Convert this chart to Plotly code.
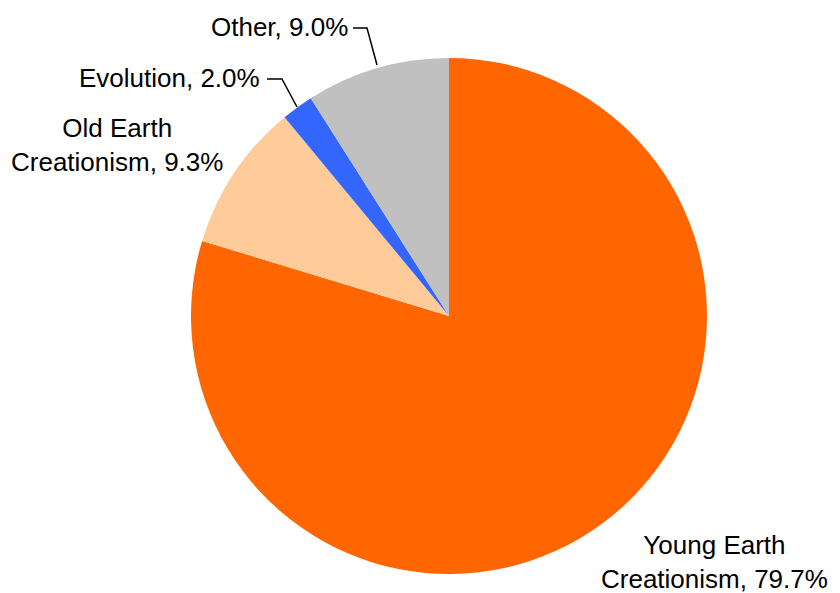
import plotly.graph_objs as go

labels = ['Young Earth Creationism', 'Old Earth Creationism', 'Evolution', 'Other']
values = [79.7, 9.3, 2.0, 9.0]
colors = ['#FF6600', '#FFCC99', '#3366FF', '#C0C0C0']

# page body has an 8px margin, so the figure is drawn 8px in from the corner
OFF = 8
W, H = 840 - OFF, 593 - OFF
FONT = dict(family='Liberation Sans, Arial, sans-serif', size=26, color='black')


def px(x):
    return (x - OFF) / W


def py(y):
    return 1 - (y - OFF) / H


fig = go.Figure(go.Pie(
    labels=labels, values=values, sort=False, direction='clockwise', rotation=0,
    marker=dict(colors=colors, line=dict(width=0)),
    textinfo='none', hoverinfo='label+percent', showlegend=False,
    domain=dict(x=[px(191), px(707)], y=[py(574), py(58)]),
))

# label text per slice: (text, x, y, xanchor)
label_pos = [
    ('Young Earth<br>Creationism, 79.7%', 714, 562, 'center'),
    ('Old Earth<br>Creationism, 9.3%', 117, 145, 'center'),
    ('Evolution, 2.0%', 262, 78, 'right'),
    ('Other, 9.0%', 350, 27, 'right'),
]
for txt, x, y, xa in label_pos:
    fig.add_annotation(text=txt, x=px(x), y=py(y), xref='paper', yref='paper',
                       xanchor=xa, yanchor='middle', showarrow=False, font=FONT)

# leader lines
leaders = [
    [(267, 79), (282, 79), (297, 107)],
    [(353, 28), (367, 28), (377, 65)],
]
for pts in leaders:
    path = 'M ' + ' L '.join(f'{px(a)} {py(b)}' for a, b in pts)
    fig.add_shape(type='path', path=path, xref='paper', yref='paper',
                  line=dict(color='black', width=1.5))

fig.update_layout(width=W, height=H, margin=dict(l=0, r=0, t=0, b=0),
                  paper_bgcolor='white', plot_bgcolor='white', font=FONT)
fig.write_html('out.html')
